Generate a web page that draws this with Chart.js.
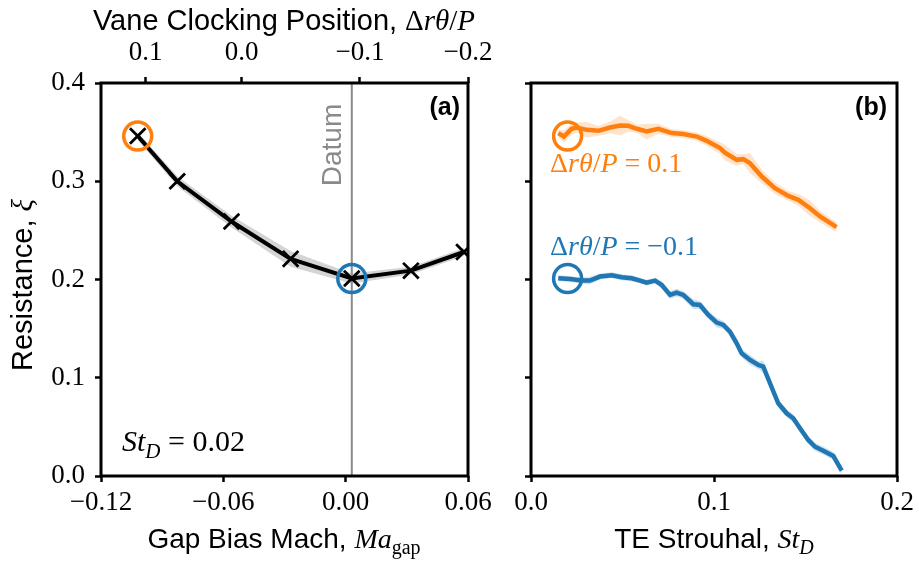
<!DOCTYPE html>
<html>
<head>
<meta charset="utf-8">
<script src="https://cdn.jsdelivr.net/npm/chart.js@4.4.1/dist/chart.umd.min.js"></script>
<style>
  html, body { margin: 0; padding: 0; background: #fff; }
  #wrap { position: relative; width: 919px; height: 564px; overflow: hidden; }
  canvas { position: absolute; top: 0; }
  #left  { left: 0; }
  #right { left: 490px; }
</style>
</head>
<body>
<div id="wrap">
  <canvas id="right" width="429" height="564"></canvas>
  <canvas id="left" width="510" height="564"></canvas>
</div>
<script>
// (a) resistance vs gap bias Mach, St_D = 0.02
const gapMach   = [-0.102, -0.0826, -0.056, -0.027, 0.003, 0.032, 0.058];
const resistA   = [0.346, 0.300, 0.259, 0.221, 0.201, 0.209, 0.228];
const bandA     = [0.004, 0.005, 0.006, 0.008, 0.005, 0.004, 0.004];
const datumMach = 0.003;

const gapTicks      = [-0.12, -0.06, 0.00, 0.06];
const gapTickLabels = ['−0.12', '−0.06', '0.00', '0.06'];
const vaneTicks      = [-0.0981, -0.0510, 0.0070, 0.06];   // clocking ticks in Ma_gap coordinates
const vaneTickLabels = ['0.1', '0.0', '−0.1', '−0.2'];
const resistTicks      = [0, 0.1, 0.2, 0.3, 0.4];
const resistTickLabels = ['0.0', '0.1', '0.2', '0.3', '0.4'];

// (b) resistance vs TE Strouhal for two clocking positions
const stOrange = [0.0149, 0.018, 0.0222, 0.025, 0.0304, 0.0368, 0.0432, 0.0486, 0.0532, 0.0578,
                  0.0632, 0.0696, 0.0769, 0.0832, 0.0906, 0.096, 0.1033, 0.106, 0.1124, 0.116,
                  0.1197, 0.1261, 0.1333, 0.1406, 0.1461, 0.1525, 0.1579, 0.167];
const resistOrange = [0.349, 0.3455, 0.3534, 0.3547, 0.3523, 0.3513, 0.3547, 0.3567, 0.3564, 0.3534,
                      0.3506, 0.3534, 0.349, 0.348, 0.3455, 0.3411, 0.3337, 0.329, 0.3218, 0.3225,
                      0.3184, 0.3048, 0.293, 0.2851, 0.2811, 0.2726, 0.2641, 0.2533];
const bandOrange = [0.004, 0.006, 0.006, 0.005, 0.008, 0.005, 0.006, 0.010, 0.006, 0.004,
                    0.008, 0.005, 0.004, 0.004, 0.004, 0.005, 0.006, 0.008, 0.006, 0.005,
                    0.010, 0.007, 0.006, 0.005, 0.006, 0.008, 0.006, 0.005];

const stBlue = [0.0149, 0.0213, 0.0277, 0.0322, 0.0377, 0.0441, 0.0496, 0.055, 0.0596, 0.0632,
                0.0678, 0.0714, 0.076, 0.0796, 0.0832, 0.0887, 0.0923, 0.0969, 0.1015, 0.1051,
                0.1087, 0.1124, 0.1151, 0.1197, 0.1242, 0.1269, 0.1306, 0.1351, 0.1397, 0.1433,
                0.147, 0.1515, 0.1552, 0.1597, 0.1652, 0.1698];
const resistBlue = [0.2013, 0.2006, 0.1989, 0.1989, 0.2030, 0.2044, 0.2023, 0.2013, 0.1989, 0.1968,
                    0.1989, 0.1945, 0.1843, 0.1867, 0.1843, 0.1748, 0.1741, 0.164, 0.1561, 0.1538,
                    0.1469, 0.1351, 0.1249, 0.1181, 0.113, 0.1113, 0.0944, 0.074, 0.0638, 0.0588,
                    0.0486, 0.0367, 0.0298, 0.0258, 0.0204, 0.0054];
const bandBlue = [0.003, 0.003, 0.003, 0.004, 0.003, 0.003, 0.003, 0.003, 0.003, 0.003,
                  0.003, 0.004, 0.004, 0.004, 0.004, 0.005, 0.004, 0.004, 0.005, 0.004,
                  0.004, 0.005, 0.004, 0.005, 0.004, 0.006, 0.005, 0.004, 0.004, 0.004,
                  0.004, 0.004, 0.004, 0.004, 0.004, 0.004];

const stTicks      = [0, 0.1, 0.2];
const stTickLabels = ['0.0', '0.1', '0.2'];

const ORANGE = '#ff7f0e';
const BLUE   = '#1f77b4';
const SANS   = '"Liberation Sans", Arial, sans-serif';
const SERIF  = '"Liberation Serif", "DejaVu Serif", serif';

const pts  = (xs, ys) => xs.map((x, i) => ({ x, y: ys[i] }));
const band = (xs, ys, w, sign) => xs.map((x, i) => ({ x, y: ys[i] + sign * w[i] }));
const fixedTicks = (vals) => (scale) => { scale.ticks = vals.map(v => ({ value: v })); };
const labelFor = (vals, labels) => (v) => {
  const i = vals.findIndex(t => Math.abs(t - v) < 1e-9);
  return i >= 0 ? labels[i] : '';
};

// text made of runs with different fonts: [text, font, dy]
function drawRuns(ctx, runs, x, y, align) {
  let w = 0;
  runs.forEach(r => { ctx.font = r[1]; w += ctx.measureText(r[0]).width; });
  let cx = align === 'center' ? x - w / 2 : align === 'right' ? x - w : x;
  ctx.textAlign = 'left';
  ctx.textBaseline = 'alphabetic';
  runs.forEach(r => {
    ctx.font = r[1];
    ctx.fillText(r[0], cx, y + (r[2] || 0));
    cx += ctx.measureText(r[0]).width;
  });
}

const tickGrid = { drawOnChartArea: false, drawTicks: true, tickLength: 6, tickWidth: 2.5,
                   tickColor: '#000', color: '#000' };
const tickFont = { family: SERIF, size: 27 };

const framePlugin = {
  id: 'frame',
  afterDraw(chart) {
    const { ctx, chartArea: a } = chart;
    ctx.save();
    ctx.strokeStyle = '#000';
    ctx.lineWidth = 3;
    ctx.strokeRect(a.left, a.top, a.right - a.left, a.bottom - a.top);
    ctx.restore();
  }
};

const sans = (s, w) => `${w || ''} ${s}px ${SANS}`;
const it   = (s) => `italic ${s}px ${SERIF}`;
const rm   = (s) => `${s}px ${SERIF}`;

const textA = {
  id: 'textA',
  afterDraw(chart) {
    const ctx = chart.ctx;
    ctx.save();
    ctx.fillStyle = '#000';
    drawRuns(ctx, [['Vane Clocking Position, ', sans(29)], ['Δ', rm(29)], ['rθ', it(29)],
                   ['/', rm(29)], ['P', it(29)]], 284, 30, 'center');
    drawRuns(ctx, [['Gap Bias Mach, ', sans(28)], ['Ma', it(28)], ['gap', rm(20), 6]],
             284, 548, 'center');
    ctx.save();
    ctx.translate(32, 285);
    ctx.rotate(-Math.PI / 2);
    drawRuns(ctx, [['Resistance, ', sans(29)], ['ξ', it(29)]], 0, 0, 'center');
    ctx.restore();

    drawRuns(ctx, [['(a)', sans(25, 'bold')]], 460, 115, 'right');
    drawRuns(ctx, [['St', it(30)], ['D', it(21), 7], [' = 0.02', rm(30)]], 122, 451, 'left');

    ctx.fillStyle = '#8a8a8a';
    ctx.translate(341, 145);
    ctx.rotate(-Math.PI / 2);
    drawRuns(ctx, [['Datum', sans(28)]], 0, 0, 'center');
    ctx.restore();
  }
};

const textB = {
  id: 'textB',
  afterDraw(chart) {
    const ctx = chart.ctx;
    ctx.save();
    ctx.fillStyle = '#000';
    drawRuns(ctx, [['TE Strouhal, ', sans(28)], ['St', it(28)], ['D', it(20), 6]], 224, 548, 'center');
    drawRuns(ctx, [['(b)', sans(25, 'bold')]], 397, 115, 'right');
    ctx.fillStyle = ORANGE;
    drawRuns(ctx, [['Δ', rm(28)], ['rθ', it(28)], ['/', rm(28)], ['P', it(28)], [' = 0.1', rm(28)]],
             60, 172, 'left');
    ctx.fillStyle = BLUE;
    drawRuns(ctx, [['Δ', rm(28)], ['rθ', it(28)], ['/', rm(28)], ['P', it(28)], [' = −0.1', rm(28)]],
             60, 255, 'left');
    ctx.restore();
  }
};

const ringStyle = (color) => ({
  showLine: false, pointStyle: 'circle', pointRadius: 14, pointBorderWidth: 3.5,
  pointBorderColor: color, pointBackgroundColor: 'rgba(0,0,0,0)', order: 0
});

new Chart(document.getElementById('left'), {
  type: 'line',
  data: {
    datasets: [
      { data: band(gapMach, resistA, bandA, 1), borderWidth: 0, pointRadius: 0, fill: false, order: 3 },
      { data: band(gapMach, resistA, bandA, -1), borderWidth: 0, pointRadius: 0, fill: '-1',
        backgroundColor: 'rgba(160,160,160,0.45)', order: 3 },
      { data: [{ x: datumMach, y: 0 }, { x: datumMach, y: 0.4 }], borderColor: '#8a8a8a',
        borderWidth: 2, pointRadius: 0, order: 2 },
      { data: pts(gapMach, resistA), borderColor: '#000', borderWidth: 4,
        pointStyle: 'crossRot', pointRadius: 11, pointBorderWidth: 2.8,
        pointBorderColor: '#000', order: 1 },
      { data: [{ x: gapMach[0], y: resistA[0] }], ...ringStyle(ORANGE) },
      { data: [{ x: gapMach[4], y: resistA[4] }], ...ringStyle(BLUE) }
    ]
  },
  options: {
    responsive: false, animation: false,
    layout: { padding: { left: 0, right: 42, top: 0, bottom: 0 } },
    plugins: { legend: { display: false }, tooltip: { enabled: false } },
    scales: {
      x: {
        type: 'linear', position: 'bottom', min: -0.12, max: 0.06,
        afterBuildTicks: fixedTicks(gapTicks),
        afterFit: (s) => { s.height = 88; },
        ticks: { callback: labelFor(gapTicks, gapTickLabels), font: tickFont, color: '#000',
                 maxRotation: 0, padding: 5 },
        grid: tickGrid, border: { display: false }
      },
      x2: {
        type: 'linear', position: 'top', min: -0.12, max: 0.06,
        afterBuildTicks: fixedTicks(vaneTicks),
        afterFit: (s) => { s.height = 83; },
        ticks: { callback: labelFor(vaneTicks, vaneTickLabels), font: tickFont, color: '#000',
                 maxRotation: 0, padding: 8 },
        grid: tickGrid, border: { display: false }
      },
      y: {
        type: 'linear', min: 0, max: 0.4,
        afterBuildTicks: fixedTicks(resistTicks),
        afterFit: (s) => { s.width = 101; },
        ticks: { callback: labelFor(resistTicks, resistTickLabels), font: tickFont, color: '#000',
                 padding: 10 },
        grid: tickGrid, border: { display: false }
      }
    }
  },
  plugins: [framePlugin, textA]
});

new Chart(document.getElementById('right'), {
  type: 'line',
  data: {
    datasets: [
      { data: band(stOrange, resistOrange, bandOrange, 1), borderWidth: 0, pointRadius: 0, fill: false, order: 3 },
      { data: band(stOrange, resistOrange, bandOrange, -1), borderWidth: 0, pointRadius: 0, fill: '-1',
        backgroundColor: 'rgba(255,127,14,0.22)', order: 3 },
      { data: band(stBlue, resistBlue, bandBlue, 1), borderWidth: 0, pointRadius: 0, fill: false, order: 3 },
      { data: band(stBlue, resistBlue, bandBlue, -1), borderWidth: 0, pointRadius: 0, fill: '-1',
        backgroundColor: 'rgba(31,119,180,0.22)', order: 3 },
      { data: pts(stOrange, resistOrange), borderColor: ORANGE, borderWidth: 4.5, pointRadius: 0, order: 1 },
      { data: pts(stBlue, resistBlue), borderColor: BLUE, borderWidth: 4.5, pointRadius: 0, order: 1 },
      { data: [{ x: 0.02, y: resistA[0] }], ...ringStyle(ORANGE) },
      { data: [{ x: 0.02, y: resistA[4] }], ...ringStyle(BLUE) }
    ]
  },
  options: {
    responsive: false, animation: false,
    layout: { padding: { left: 0, right: 22, top: 83, bottom: 0 } },
    plugins: { legend: { display: false }, tooltip: { enabled: false } },
    scales: {
      x: {
        type: 'linear', min: 0, max: 0.2,
        afterBuildTicks: fixedTicks(stTicks),
        afterFit: (s) => { s.height = 88; },
        ticks: { callback: labelFor(stTicks, stTickLabels), font: tickFont, color: '#000',
                 maxRotation: 0, padding: 5 },
        grid: tickGrid, border: { display: false }
      },
      y: {
        type: 'linear', min: 0, max: 0.4,
        afterBuildTicks: fixedTicks(resistTicks),
        afterFit: (s) => { s.width = 41; },
        ticks: { display: false },
        grid: tickGrid, border: { display: false }
      }
    }
  },
  plugins: [framePlugin, textB]
});
</script>
</body>
</html>
